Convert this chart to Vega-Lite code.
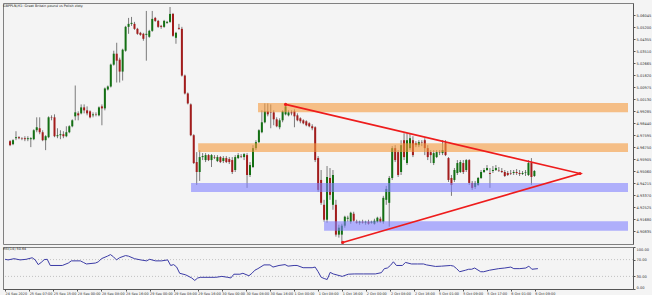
{
"$schema": "https://vega.github.io/schema/vega-lite/v6.json",
"background": "#f4f4f4",
"padding": {"left": 2, "top": 2, "right": 0, "bottom": 0},
"spacing": 1,
"config": {"view": {"stroke": "#808080", "strokeWidth": 1, "fill": "#f4f4f4"}, "font": "DejaVu Sans",
  "axis": {"labelOverlap": false, "grid": false, "labelFont": "DejaVu Sans"}},
"datasets": {
"candles": [
{"i":0,"o":4.9716,"h":4.9723,"l":4.9681,"c":4.9688},{"i":1,"o":4.9695,"h":4.9730,"l":4.9688,"c":4.9723},{"i":2,"o":4.9737,"h":4.9786,"l":4.9723,"c":4.9744},{"i":3,"o":4.9744,"h":4.9751,"l":4.9730,"c":4.9737},{"i":4,"o":4.9737,"h":4.9744,"l":4.9723,"c":4.9734},{"i":5,"o":4.9737,"h":4.9751,"l":4.9716,"c":4.9730},{"i":6,"o":4.9730,"h":4.9751,"l":4.9716,"c":4.9737},{"i":7,"o":4.9730,"h":4.9744,"l":4.9674,"c":4.9737},{"i":8,"o":4.9730,"h":4.9800,"l":4.9723,"c":4.9793},{"i":9,"o":4.9793,"h":4.9884,"l":4.9779,"c":4.9814},
{"i":10,"o":4.9807,"h":4.9884,"l":4.9765,"c":4.9779},{"i":11,"o":4.9779,"h":4.9793,"l":4.9716,"c":4.9723},{"i":12,"o":4.9723,"h":4.9758,"l":4.9653,"c":4.9751},{"i":13,"o":4.9744,"h":4.9891,"l":4.9737,"c":4.9884},{"i":14,"o":4.9884,"h":4.9898,"l":4.9863,"c":4.9881},{"i":15,"o":4.9884,"h":4.9905,"l":4.9744,"c":4.9751},{"i":16,"o":4.9751,"h":4.9807,"l":4.9737,"c":4.9758},{"i":17,"o":4.9758,"h":4.9793,"l":4.9730,"c":4.9765},{"i":18,"o":4.9765,"h":4.9786,"l":4.9737,"c":4.9751},{"i":19,"o":4.9751,"h":4.9821,"l":4.9744,"c":4.9779},
{"i":20,"o":4.9779,"h":4.9828,"l":4.9772,"c":4.9821},{"i":21,"o":4.9821,"h":4.9870,"l":4.9814,"c":4.9863},{"i":22,"o":4.9891,"h":5.0108,"l":4.9863,"c":4.9919},{"i":23,"o":4.9912,"h":4.9926,"l":4.9863,"c":4.9898},{"i":24,"o":4.9912,"h":4.9975,"l":4.9905,"c":4.9954},{"i":25,"o":4.9954,"h":4.9975,"l":4.9912,"c":4.9933},{"i":26,"o":4.9933,"h":4.9961,"l":4.9898,"c":4.9912},{"i":27,"o":4.9926,"h":4.9933,"l":4.9877,"c":4.9884},{"i":28,"o":4.9898,"h":4.9919,"l":4.9884,"c":4.9905},{"i":29,"o":4.9905,"h":4.9919,"l":4.9891,"c":4.9902},
{"i":30,"o":4.9898,"h":4.9961,"l":4.9891,"c":4.9954},{"i":31,"o":4.9961,"h":4.9975,"l":4.9828,"c":4.9947},{"i":32,"o":4.9947,"h":5.0094,"l":4.9933,"c":5.0087},{"i":33,"o":5.0080,"h":5.0108,"l":5.0073,"c":5.0101},{"i":34,"o":5.0101,"h":5.0262,"l":5.0094,"c":5.0255},{"i":35,"o":5.0255,"h":5.0353,"l":5.0248,"c":5.0332},{"i":36,"o":5.0332,"h":5.0409,"l":5.0129,"c":5.0283},{"i":37,"o":5.0290,"h":5.0304,"l":5.0129,"c":5.0206},{"i":38,"o":5.0206,"h":5.0367,"l":5.0143,"c":5.0360},{"i":39,"o":5.0353,"h":5.0528,"l":5.0346,"c":5.0521},
{"i":40,"o":5.0521,"h":5.0584,"l":5.0472,"c":5.0542},{"i":41,"o":5.0542,"h":5.0591,"l":5.0528,"c":5.0549},{"i":42,"o":5.0542,"h":5.0556,"l":5.0500,"c":5.0507},{"i":43,"o":5.0507,"h":5.0514,"l":5.0465,"c":5.0472},{"i":44,"o":5.0479,"h":5.0486,"l":5.0458,"c":5.0465},{"i":45,"o":5.0472,"h":5.0479,"l":5.0423,"c":5.0437},{"i":46,"o":5.0465,"h":5.0633,"l":5.0283,"c":5.0472},{"i":47,"o":5.0451,"h":5.0500,"l":5.0444,"c":5.0493},{"i":48,"o":5.0493,"h":5.0633,"l":5.0486,"c":5.0577},{"i":49,"o":5.0584,"h":5.0591,"l":5.0556,"c":5.0563},
{"i":50,"o":5.0563,"h":5.0570,"l":5.0514,"c":5.0521},{"i":51,"o":5.0528,"h":5.0535,"l":5.0507,"c":5.0521},{"i":52,"o":5.0521,"h":5.0570,"l":5.0514,"c":5.0563},{"i":53,"o":5.0549,"h":5.0563,"l":5.0542,"c":5.0556},{"i":54,"o":5.0556,"h":5.0661,"l":5.0549,"c":5.0612},{"i":55,"o":5.0612,"h":5.0619,"l":5.0451,"c":5.0458},{"i":56,"o":5.0444,"h":5.0486,"l":5.0402,"c":5.0479},{"i":57,"o":5.0514,"h":5.0542,"l":5.0500,"c":5.0507},{"i":58,"o":5.0507,"h":5.0521,"l":5.0171,"c":5.0178},{"i":59,"o":5.0178,"h":5.0185,"l":5.0045,"c":5.0052},
{"i":60,"o":5.0052,"h":5.0059,"l":4.9975,"c":4.9982},{"i":61,"o":4.9975,"h":4.9982,"l":4.9751,"c":4.9758},{"i":62,"o":4.9758,"h":4.9765,"l":4.9555,"c":4.9562},{"i":63,"o":4.9569,"h":4.9639,"l":4.9408,"c":4.9499},{"i":64,"o":4.9499,"h":4.9653,"l":4.9436,"c":4.9604},{"i":65,"o":4.9604,"h":4.9632,"l":4.9583,"c":4.9611},{"i":66,"o":4.9583,"h":4.9632,"l":4.9569,"c":4.9618},{"i":67,"o":4.9618,"h":4.9625,"l":4.9576,"c":4.9583},{"i":68,"o":4.9583,"h":4.9625,"l":4.9534,"c":4.9618},{"i":69,"o":4.9604,"h":4.9618,"l":4.9590,"c":4.9600},
{"i":70,"o":4.9576,"h":4.9618,"l":4.9569,"c":4.9604},{"i":71,"o":4.9604,"h":4.9611,"l":4.9562,"c":4.9569},{"i":72,"o":4.9576,"h":4.9611,"l":4.9562,"c":4.9597},{"i":73,"o":4.9597,"h":4.9611,"l":4.9562,"c":4.9569},{"i":74,"o":4.9590,"h":4.9604,"l":4.9555,"c":4.9569},{"i":75,"o":4.9583,"h":4.9604,"l":4.9485,"c":4.9499},{"i":76,"o":4.9513,"h":4.9618,"l":4.9499,"c":4.9604},{"i":77,"o":4.9597,"h":4.9632,"l":4.9590,"c":4.9618},{"i":78,"o":4.9611,"h":4.9625,"l":4.9597,"c":4.9607},{"i":79,"o":4.9604,"h":4.9632,"l":4.9583,"c":4.9625},
{"i":80,"o":4.9618,"h":4.9632,"l":4.9387,"c":4.9478},{"i":81,"o":4.9478,"h":4.9569,"l":4.9464,"c":4.9548},{"i":82,"o":4.9534,"h":4.9688,"l":4.9527,"c":4.9667},{"i":83,"o":4.9667,"h":4.9723,"l":4.9653,"c":4.9709},{"i":84,"o":4.9709,"h":4.9800,"l":4.9702,"c":4.9793},{"i":85,"o":4.9779,"h":4.9933,"l":4.9772,"c":4.9849},{"i":86,"o":4.9849,"h":4.9982,"l":4.9842,"c":4.9926},{"i":87,"o":4.9926,"h":4.9982,"l":4.9891,"c":4.9905},{"i":88,"o":4.9919,"h":4.9975,"l":4.9807,"c":4.9916},{"i":89,"o":4.9919,"h":4.9933,"l":4.9828,"c":4.9870},
{"i":90,"o":4.9870,"h":4.9884,"l":4.9814,"c":4.9821},{"i":91,"o":4.9814,"h":4.9877,"l":4.9800,"c":4.9863},{"i":92,"o":4.9863,"h":4.9933,"l":4.9849,"c":4.9926},{"i":93,"o":4.9905,"h":4.9975,"l":4.9898,"c":4.9961},{"i":94,"o":4.9898,"h":4.9933,"l":4.9891,"c":4.9919},{"i":95,"o":4.9919,"h":4.9933,"l":4.9898,"c":4.9912},{"i":96,"o":4.9926,"h":4.9940,"l":4.9814,"c":4.9891},{"i":97,"o":4.9898,"h":4.9912,"l":4.9856,"c":4.9863},{"i":98,"o":4.9877,"h":4.9884,"l":4.9842,"c":4.9856},{"i":99,"o":4.9863,"h":4.9870,"l":4.9835,"c":4.9842},
{"i":100,"o":4.9856,"h":4.9863,"l":4.9821,"c":4.9828},{"i":101,"o":4.9842,"h":4.9849,"l":4.9814,"c":4.9821},{"i":102,"o":4.9821,"h":4.9835,"l":4.9793,"c":4.9807},{"i":103,"o":4.9814,"h":4.9821,"l":4.9569,"c":4.9583},{"i":104,"o":4.9597,"h":4.9611,"l":4.9359,"c":4.9373},{"i":105,"o":4.9443,"h":4.9513,"l":4.9268,"c":4.9282},{"i":106,"o":4.9268,"h":4.9303,"l":4.9149,"c":4.9163},{"i":107,"o":4.9163,"h":4.9541,"l":4.9142,"c":4.9464},{"i":108,"o":4.9457,"h":4.9527,"l":4.9303,"c":4.9338},{"i":109,"o":4.9268,"h":4.9513,"l":4.9233,"c":4.9478},
{"i":110,"o":4.9268,"h":4.9303,"l":4.9044,"c":4.9058},{"i":111,"o":4.9058,"h":4.9128,"l":4.9037,"c":4.9107},{"i":112,"o":4.9058,"h":4.9135,"l":4.8994,"c":4.9121},{"i":113,"o":4.9121,"h":4.9191,"l":4.9107,"c":4.9184},{"i":114,"o":4.9170,"h":4.9191,"l":4.9149,"c":4.9177},{"i":115,"o":4.9149,"h":4.9219,"l":4.9135,"c":4.9212},{"i":116,"o":4.9205,"h":4.9219,"l":4.9149,"c":4.9156},{"i":117,"o":4.9149,"h":4.9163,"l":4.9135,"c":4.9142},{"i":118,"o":4.9142,"h":4.9156,"l":4.9128,"c":4.9149},{"i":119,"o":4.9149,"h":4.9163,"l":4.9135,"c":4.9142},
{"i":120,"o":4.9142,"h":4.9156,"l":4.9128,"c":4.9149},{"i":121,"o":4.9149,"h":4.9163,"l":4.9128,"c":4.9135},{"i":122,"o":4.9142,"h":4.9156,"l":4.9135,"c":4.9149},{"i":123,"o":4.9135,"h":4.9170,"l":4.9128,"c":4.9156},{"i":124,"o":4.9149,"h":4.9184,"l":4.9142,"c":4.9177},{"i":125,"o":4.9170,"h":4.9184,"l":4.9142,"c":4.9149},{"i":126,"o":4.9149,"h":4.9331,"l":4.9135,"c":4.9317},{"i":127,"o":4.9303,"h":4.9401,"l":4.9268,"c":4.9380},{"i":128,"o":4.9282,"h":4.9471,"l":4.9114,"c":4.9457},{"i":129,"o":4.9457,"h":4.9681,"l":4.9443,"c":4.9667},
{"i":130,"o":4.9667,"h":4.9688,"l":4.9569,"c":4.9583},{"i":131,"o":4.9639,"h":4.9653,"l":4.9464,"c":4.9478},{"i":132,"o":4.9499,"h":4.9723,"l":4.9478,"c":4.9688},{"i":133,"o":4.9723,"h":4.9772,"l":4.9583,"c":4.9604},{"i":134,"o":4.9562,"h":4.9772,"l":4.9548,"c":4.9723},{"i":135,"o":4.9667,"h":4.9772,"l":4.9653,"c":4.9737},{"i":136,"o":4.9723,"h":4.9751,"l":4.9604,"c":4.9618},{"i":137,"o":4.9702,"h":4.9716,"l":4.9674,"c":4.9688},{"i":138,"o":4.9688,"h":4.9723,"l":4.9674,"c":4.9709},{"i":139,"o":4.9709,"h":4.9723,"l":4.9681,"c":4.9706},
{"i":140,"o":4.9723,"h":4.9737,"l":4.9618,"c":4.9667},{"i":141,"o":4.9667,"h":4.9688,"l":4.9583,"c":4.9604},{"i":142,"o":4.9639,"h":4.9653,"l":4.9562,"c":4.9618},{"i":143,"o":4.9562,"h":4.9653,"l":4.9548,"c":4.9632},{"i":144,"o":4.9604,"h":4.9653,"l":4.9597,"c":4.9639},{"i":145,"o":4.9639,"h":4.9653,"l":4.9618,"c":4.9636},{"i":146,"o":4.9632,"h":4.9723,"l":4.9618,"c":4.9653},{"i":147,"o":4.9702,"h":4.9723,"l":4.9611,"c":4.9618},{"i":148,"o":4.9597,"h":4.9604,"l":4.9429,"c":4.9443},{"i":149,"o":4.9457,"h":4.9478,"l":4.9331,"c":4.9408},
{"i":150,"o":4.9443,"h":4.9527,"l":4.9429,"c":4.9513},{"i":151,"o":4.9492,"h":4.9583,"l":4.9478,"c":4.9562},{"i":152,"o":4.9499,"h":4.9583,"l":4.9492,"c":4.9569},{"i":153,"o":4.9562,"h":4.9583,"l":4.9485,"c":4.9499},{"i":154,"o":4.9513,"h":4.9590,"l":4.9499,"c":4.9583},{"i":155,"o":4.9583,"h":4.9590,"l":4.9408,"c":4.9422},{"i":156,"o":4.9422,"h":4.9436,"l":4.9373,"c":4.9387},{"i":157,"o":4.9394,"h":4.9436,"l":4.9380,"c":4.9422},{"i":158,"o":4.9408,"h":4.9464,"l":4.9401,"c":4.9457},{"i":159,"o":4.9457,"h":4.9513,"l":4.9450,"c":4.9499},
{"i":160,"o":4.9499,"h":4.9527,"l":4.9492,"c":4.9513},{"i":161,"o":4.9513,"h":4.9548,"l":4.9506,"c":4.9527},{"i":162,"o":4.9492,"h":4.9527,"l":4.9387,"c":4.9485},{"i":163,"o":4.9506,"h":4.9541,"l":4.9492,"c":4.9513},{"i":164,"o":4.9513,"h":4.9548,"l":4.9506,"c":4.9527},{"i":165,"o":4.9513,"h":4.9534,"l":4.9499,"c":4.9510},{"i":166,"o":4.9506,"h":4.9527,"l":4.9492,"c":4.9499},{"i":167,"o":4.9499,"h":4.9513,"l":4.9464,"c":4.9471},{"i":168,"o":4.9492,"h":4.9506,"l":4.9471,"c":4.9478},{"i":169,"o":4.9492,"h":4.9513,"l":4.9478,"c":4.9488},
{"i":170,"o":4.9492,"h":4.9513,"l":4.9478,"c":4.9499},{"i":171,"o":4.9499,"h":4.9520,"l":4.9478,"c":4.9492},{"i":172,"o":4.9492,"h":4.9513,"l":4.9471,"c":4.9485},{"i":173,"o":4.9485,"h":4.9506,"l":4.9478,"c":4.9492},{"i":174,"o":4.9492,"h":4.9513,"l":4.9471,"c":4.9496},{"i":175,"o":4.9478,"h":4.9583,"l":4.9471,"c":4.9562},{"i":176,"o":4.9562,"h":4.9597,"l":4.9408,"c":4.9464},{"i":177,"o":4.9471,"h":4.9513,"l":4.9464,"c":4.9506}
],
"zones": [
{"k":"orange","x1":83.7,"x2":208.6,"y1":4.99855,"y2":4.9919},
{"k":"orange","x1":63.5,"x2":208.6,"y1":4.9702,"y2":4.9639},
{"k":"blue","x1":61.1,"x2":208.6,"y1":4.9422,"y2":4.9359},
{"k":"blue","x1":106,"x2":208.6,"y1":4.91525,"y2":4.9086}
],
"tri": [
{"n":1,"i":93,"p":4.9975},
{"n":2,"i":192.4,"p":4.94885},
{"n":3,"i":112.3,"p":4.9003}
],
"rsi": [
{"i":0,"v":70.7},{"i":1,"v":69.3},{"i":3,"v":72.2},{"i":5,"v":69.3},{"i":7,"v":70.7},{"i":9,"v":74.4},{"i":10,"v":69.3},{"i":11,"v":58.1},{"i":12,"v":63.3},{"i":13,"v":70},{"i":14,"v":70.7},{"i":15,"v":56},{"i":19,"v":56},{"i":21,"v":61.8},{"i":22,"v":67},{"i":25,"v":67},{"i":26,"v":63.3},{"i":27,"v":59.6},{"i":30,"v":61.8},{"i":31,"v":64.8},{"i":32,"v":72.2},{"i":34,"v":78.2},{"i":35,"v":81.9},{"i":36,"v":76.7},{"i":37,"v":69.3},{"i":38,"v":74.4},{"i":40,"v":79.6},{"i":41,"v":78.2},{"i":43,"v":72.2},{"i":45,"v":69.3},{"i":47,"v":67},{"i":48,"v":70.7},{"i":50,"v":67},{"i":52,"v":67},{"i":54,"v":69.3},{"i":55,"v":56},{"i":56,"v":58.1},{"i":57,"v":52.2},{"i":58,"v":37.4},{"i":60,"v":33.7},{"i":62,"v":26.3},{"i":63,"v":20.4},{"i":64,"v":26.3},{"i":65,"v":27.8},{"i":70,"v":27.8},{"i":72,"v":30},{"i":74,"v":27.8},{"i":75,"v":26.3},{"i":76,"v":35.2},{"i":78,"v":35.2},{"i":79,"v":37.4},{"i":81,"v":31.5},{"i":82,"v":37.4},{"i":83,"v":44.8},{"i":84,"v":48.5},{"i":86,"v":57.4},{"i":88,"v":57.4},{"i":89,"v":52.2},{"i":91,"v":56},{"i":93,"v":58.1},{"i":94,"v":54.4},{"i":96,"v":56},{"i":97,"v":56},{"i":99,"v":50.7},{"i":102,"v":50.7},{"i":103,"v":52.2},{"i":104,"v":41.1},{"i":105,"v":28},{"i":106,"v":25},{"i":107,"v":22.6},{"i":108,"v":39.6},{"i":109,"v":35.9},{"i":112,"v":30},{"i":114,"v":35.2},{"i":116,"v":35.9},{"i":119,"v":35.9},{"i":123,"v":35.9},{"i":125,"v":38.9},{"i":126,"v":48.5},{"i":127,"v":50},{"i":128,"v":56},{"i":129,"v":64.8},{"i":130,"v":56},{"i":132,"v":56},{"i":133,"v":63.3},{"i":135,"v":59.6},{"i":137,"v":59.6},{"i":139,"v":59.6},{"i":140,"v":57.4},{"i":143,"v":53.7},{"i":145,"v":54.4},{"i":148,"v":56},{"i":149,"v":54.4},{"i":150,"v":48.5},{"i":151,"v":41.1},{"i":153,"v":44.8},{"i":154,"v":47},{"i":155,"v":47},{"i":156,"v":50},{"i":158,"v":41.1},{"i":159,"v":41.1},{"i":161,"v":44.8},{"i":164,"v":48.5},{"i":166,"v":50},{"i":168,"v":52.2},{"i":169,"v":48.5},{"i":171,"v":48.5},{"i":173,"v":50},{"i":174,"v":54.4},{"i":175,"v":47},{"i":177,"v":48.5}
],
"levels": [{"v":30},{"v":70}]
},
"vconcat": [
{
"width": 630, "height": 241,
"title": {"text": "GBPPLN,H1:  Great Britain pound vs Polish zloty", "anchor": "start", "frame": "group", "offset": -4, "fontSize": 3.4, "fontWeight": "normal", "color": "#222222", "font": "DejaVu Sans"},
"layer": [
{"data": {"name": "candles"}, "mark": {"type": "rule", "color": "#7a7a7a", "strokeWidth": 1},
 "encoding": {
  "x": {"field": "i", "type": "quantitative", "scale": {"domain": [-0.7, 208.6], "nice": false, "zero": false}, "axis": null, "title": null},
  "y": {"field": "l", "type": "quantitative", "scale": {"domain": [4.8992, 5.0689], "nice": false, "zero": false}, "title": null,
        "axis": {"orient": "right", "tickCount": 40, "values": [5.06045,5.052,5.04355,5.0351,5.02665,5.0182,5.00975,5.0013,4.99285,4.9844,4.97595,4.9675,4.95905,4.9506,4.94215,4.9337,4.92525,4.9168,4.90835], "format": ".5f", "labelFontSize": 3.6, "labelColor": "#333333", "tickSize": 2, "tickColor": "#555555", "domainColor": "#555555", "labelPadding": 1, "grid": false, "labelOverlap": false}},
  "y2": {"field": "h"}
 }},
{"data": {"name": "candles"}, "mark": {"type": "bar", "width": 2},
 "encoding": {
  "x": {"field": "i", "type": "quantitative", "title": null},
  "y": {"field": "o", "type": "quantitative", "title": null},
  "y2": {"field": "c"},
  "color": {"condition": {"test": "datum.c >= datum.o", "value": "#137013"}, "value": "#a31c1c"}
 }},
{"data": {"name": "zones"}, "mark": {"type": "rect", "opacity": 0.6},
 "encoding": {
  "x": {"field": "x1", "type": "quantitative", "title": null},
  "x2": {"field": "x2"},
  "y": {"field": "y1", "type": "quantitative", "title": null},
  "y2": {"field": "y2"},
  "color": {"condition": {"test": "datum.k == 'orange'", "value": "#f59a3c"}, "value": "#8080ff"}
 }},
{"data": {"name": "tri"}, "mark": {"type": "line", "clip": true, "color": "#ee1c1c", "strokeWidth": 1.6, "point": {"filled": true, "color": "#ee1c1c", "size": 10, "clip": true}},
 "encoding": {
  "x": {"field": "i", "type": "quantitative", "title": null},
  "y": {"field": "p", "type": "quantitative", "title": null},
  "order": {"field": "n"}
 }}
]
},
{
"width": 630, "height": 42,
"title": {"text": "RSI(14) 50.64", "anchor": "start", "frame": "group", "offset": -4, "fontSize": 3.4, "fontWeight": "normal", "color": "#222222", "font": "DejaVu Sans"},
"layer": [
{"data": {"name": "levels"}, "mark": {"type": "rule", "color": "#b5b5b5", "strokeDash": [1, 2], "strokeWidth": 0.8},
 "encoding": {
  "y": {"field": "v", "type": "quantitative", "scale": {"domain": [0, 100], "nice": false}, "title": null,
        "axis": {"orient": "right", "tickCount": 10, "values": [0, 30, 70, 100], "format": ".2f", "labelFontSize": 3.6, "labelColor": "#333333", "tickSize": 2, "tickColor": "#555555", "domainColor": "#555555", "labelPadding": 1, "grid": false, "labelFlush": true, "labelOverlap": false}}
 }},
{"data": {"name": "rsi"}, "mark": {"type": "line", "color": "#3b3ba6", "strokeWidth": 1},
 "encoding": {
  "x": {"field": "i", "type": "quantitative", "scale": {"domain": [-0.7, 208.6], "nice": false, "zero": false}, "title": null,
        "axis": {"tickCount": 40, "values": [0,8,16,24,32,40,48,56,64,72,80,88,96,104,112,120,128,136,144,152,160,168,176],
                 "labelExpr": "['24 Sep 2020','25 Sep 07:00','25 Sep 15:00','28 Sep 00:00','28 Sep 08:00','28 Sep 16:00','29 Sep 00:00','29 Sep 08:00','29 Sep 16:00','30 Sep 00:00','30 Sep 08:00','30 Sep 16:00','1 Oct 00:00','1 Oct 08:00','1 Oct 16:00','2 Oct 00:00','2 Oct 08:00','2 Oct 16:00','5 Oct 01:00','5 Oct 09:00','5 Oct 17:00','6 Oct 01:00','6 Oct 09:00'][round(datum.value/8)]",
                 "labelAlign": "left", "labelBaseline": "top", "labelFontSize": 3.4, "labelColor": "#333333", "tickSize": 2, "tickColor": "#555555", "domainColor": "#555555", "labelPadding": 0, "grid": false, "labelOverlap": false}},
  "y": {"field": "v", "type": "quantitative", "title": null}
 }}
]
}
]
}
